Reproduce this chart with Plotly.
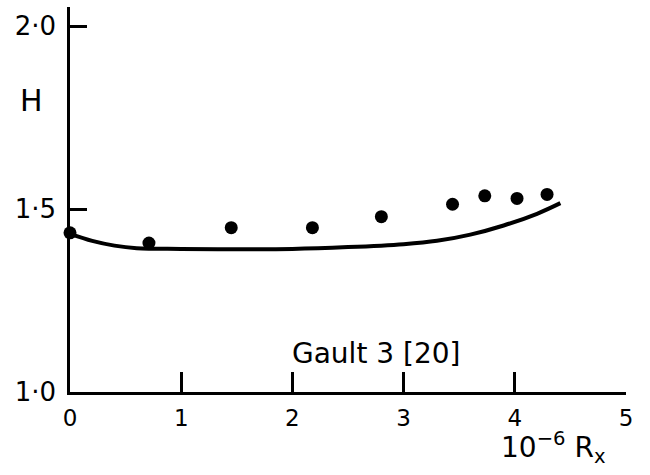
import plotly.graph_objects as go

# Observed data (dots)
x_obs = [0.0, 0.71, 1.45, 2.18, 2.80, 3.44, 3.73, 4.02, 4.29]
h_obs = [1.435, 1.407, 1.449, 1.449, 1.479, 1.513, 1.536, 1.529, 1.540]

# Calculated curve
x_curve = [0.0, 0.2, 0.4, 0.6, 1.0, 1.5, 2.0, 2.5, 3.0, 3.3, 3.6, 3.9, 4.2, 4.41]
h_curve = [1.432, 1.413, 1.400, 1.393, 1.391, 1.390, 1.391, 1.396, 1.404, 1.413, 1.430, 1.455, 1.487, 1.516]

x_ticks = [0, 1, 2, 3, 4, 5]
x_ticktext = ["0", "1", "2", "3", "4", "5"]
y_ticks = [1.0, 1.5, 2.0]
y_ticktext = ["1·0", "1·5", "2·0"]

FONT = "DejaVu Sans"

fig = go.Figure()
fig.add_trace(go.Scatter(x=x_curve, y=h_curve, mode="lines",
                         line=dict(color="black", width=4, shape="spline"),
                         showlegend=False, hoverinfo="skip", cliponaxis=False))
fig.add_trace(go.Scatter(x=x_obs, y=h_obs, mode="markers",
                         marker=dict(color="black", size=13),
                         showlegend=False, cliponaxis=False))

fig.update_layout(
    width=650, height=475,
    margin=dict(l=70, r=24, t=7, b=83),
    paper_bgcolor="white", plot_bgcolor="white",
    font=dict(family=FONT, color="black"),
    xaxis=dict(range=[0, 5], showgrid=False, zeroline=False,
               showline=True, linecolor="black", linewidth=2.5,
               ticks="inside", ticklen=20, tickwidth=2.5, tickcolor="black",
               tickvals=x_ticks, ticktext=x_ticktext,
               tickfont=dict(size=23, family=FONT), ticklabelstandoff=4),
    yaxis=dict(range=[1.0, 2.052], showgrid=False, zeroline=False,
               showline=True, linecolor="black", linewidth=2.5,
               ticks="inside", ticklen=17, tickwidth=2.5, tickcolor="black",
               tickvals=y_ticks, ticktext=y_ticktext,
               tickfont=dict(size=26, family=FONT), ticklabelstandoff=6),
    annotations=[
        dict(x=-0.070, y=0.758, xref="paper", yref="paper", text="H", showarrow=False,
             xanchor="center", yanchor="middle", font=dict(size=30, family=FONT)),
        dict(x=2.75, y=1.104, xref="x", yref="y", text="Gault 3 [20]", showarrow=False,
             xanchor="center", yanchor="middle", font=dict(size=28, family=FONT)),
        dict(x=0.869, y=-0.143, xref="paper", yref="paper",
             text="10<sup>−6</sup> R<sub>x</sub>", showarrow=False,
             xanchor="center", yanchor="middle", font=dict(size=28, family=FONT)),
    ],
)

fig.write_html("out.html")
